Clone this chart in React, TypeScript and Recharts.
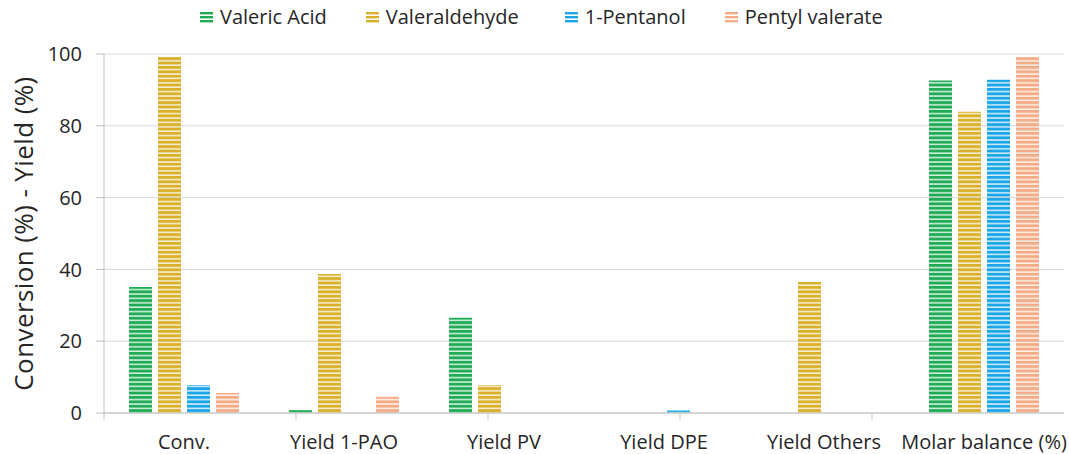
import { BarChart, Bar, XAxis, YAxis, CartesianGrid, Legend } from "recharts";

const categories = ["Conv.", "Yield 1-PAO", "Yield PV", "Yield DPE", "Yield Others", "Molar balance (%)"];
const valericAcid = [35.1, 0.8, 26.5, 0, 0, 92.6];
const valeraldehyde = [99.2, 38.7, 7.8, 0, 36.5, 83.9];
const pentanol = [7.8, 0, 0, 0.7, 0, 92.8];
const pentylValerate = [5.6, 4.5, 0, 0, 0, 99.2];
const yTicks = [0, 20, 40, 60, 80, 100];
const edgeTicks = [0, 1, 2, 3, 4, 5, 6];

const series = [
  { key: "va", name: "Valeric Acid", values: valericAcid, color: "#1fab55" },
  { key: "vald", name: "Valeraldehyde", values: valeraldehyde, color: "#dab02a" },
  { key: "pol", name: "1-Pentanol", values: pentanol, color: "#1ca6e8" },
  { key: "pv", name: "Pentyl valerate", values: pentylValerate, color: "#f4ac86" },
];

const data = categories.map((category, i) => {
  const row: any = { category };
  series.forEach((s) => (row[s.key] = s.values[i]));
  return row;
});

const FONT = "'Open Sans', Lato, sans-serif";

const StripeIcon = ({ color }: { color: string }) => (
  <svg width={13} height={12} style={{ marginRight: 7 }}>
    <rect x={0} y={1} width={13} height={2.4} fill={color} />
    <rect x={0} y={5} width={13} height={2.4} fill={color} />
    <rect x={0} y={9} width={13} height={2.4} fill={color} />
  </svg>
);

const LegendContent = () => (
  <div
    style={{
      height: 54,
      display: "flex",
      alignItems: "flex-start",
      paddingLeft: 200,
      paddingTop: 3,
      boxSizing: "border-box",
      fontFamily: FONT,
      fontSize: 20,
      color: "#262626",
    }}
  >
    {series.map((s, i) => (
      <div key={s.key} style={{ display: "flex", alignItems: "center", marginRight: i === 1 ? 46 : 39, lineHeight: "28px" }}>
        <StripeIcon color={s.color} />
        <span>{s.name}</span>
      </div>
    ))}
  </div>
);

const YLabel = (props: any) => {
  const vb = props.viewBox || {};
  const cx = vb.x + 23;
  const cy = vb.y + vb.height / 2;
  return (
    <text
      x={cx}
      y={cy}
      transform={`rotate(-90, ${cx}, ${cy})`}
      textAnchor="middle"
      dominantBaseline="central"
      fontFamily={FONT}
      fontSize={26}
      letterSpacing={0.4}
      fill="#262626"
    >
      Conversion (%) - Yield (%)
    </text>
  );
};

const NoTick = () => <g />;

export default function App() {
  return (
    <div style={{ position: "absolute", left: 0, top: 0, background: "#fff" }}>
      <BarChart
        width={1070}
        height={454}
        data={data}
        margin={{ top: 0, right: 6, bottom: 0, left: 0 }}
        barSize={23}
        barGap={6}
      >
        <defs>
          {series.map((s) => (
            <pattern key={s.key} id={`stripe-${s.key}`} patternUnits="userSpaceOnUse" width={10} height={4.4}>
              <rect x={0} y={0} width={10} height={4.4} fill={s.color} fillOpacity={0.18} />
              <rect x={0} y={0} width={10} height={2.9} fill={s.color} />
            </pattern>
          ))}
        </defs>
        <Legend verticalAlign="top" align="left" content={<LegendContent />} wrapperStyle={{ left: 0, top: 0, width: 1070 }} />
        <CartesianGrid vertical={false} stroke="#d9d9d9" xAxisId="b" />
        <XAxis
          xAxisId="a"
          type="number"
          domain={[0, 6]}
          ticks={edgeTicks}
          allowDataOverflow
          tick={NoTick}
          tickSize={7}
          height={8}
          axisLine={{ stroke: "#bfbfbf" }}
          tickLine={{ stroke: "#bfbfbf" }}
        />
        <XAxis
          xAxisId="b"
          dataKey="category"
          interval={0}
          axisLine={false}
          tickLine={false}
          tickSize={0}
          tickMargin={14}
          height={33}
          tick={{ fontFamily: FONT, fontSize: 20, fill: "#262626" }}
        />
        <YAxis
          domain={[0, 100]}
          ticks={yTicks}
          width={104}
          tickSize={8}
          tickMargin={14}
          axisLine={{ stroke: "#bfbfbf" }}
          tickLine={{ stroke: "#bfbfbf" }}
          tick={{ fontFamily: FONT, fontSize: 20, fill: "#262626" }}
          label={{ content: <YLabel /> }}
        />
        {series.map((s) => (
          <Bar
            key={s.key}
            xAxisId="b"
            dataKey={s.key}
            name={s.name}
            fill={`url(#stripe-${s.key})`}
            isAnimationActive={false}
          />
        ))}
      </BarChart>
    </div>
  );
}
